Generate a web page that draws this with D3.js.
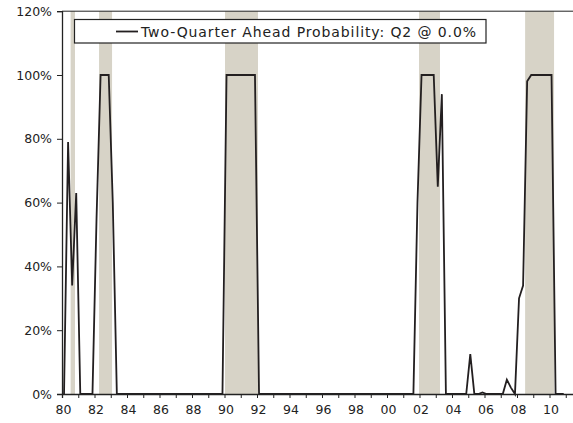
<!DOCTYPE html>
<html><head><meta charset="utf-8">
<script src="https://cdn.jsdelivr.net/npm/d3@7"></script>
<style>
html,body{margin:0;padding:0;background:#fff;}
svg{display:block;}
text{font-family:"DejaVu Sans",Verdana,sans-serif;fill:#222;}
</style></head>
<body>
<svg id="chart" width="573" height="423"></svg>
<script>
// ---- data ----
const probYears = [1980,1981,1982,1983,1984,1985,1986,1987,1988,1989,1990,1991,1992,1993,1994,1995,1996,1997,1998,1999,2000,2001,2002,2003,2004,2005,2006,2007,2008,2009,2010];
// quarterly values (Q1..Q4) for each year, in percent
const probability = [
  0, 79, 34, 63,
  0, 0, 0, 0,
  55, 100, 100, 100,
  60, 0, 0, 0,
  0, 0, 0, 0,
  0, 0, 0, 0,
  0, 0, 0, 0,
  0, 0, 0, 0,
  0, 0, 0, 0,
  0, 0, 0, 0,
  100, 100, 100, 100,
  100, 100, 100, 100,
  0, 0, 0, 0,
  0, 0, 0, 0,
  0, 0, 0, 0,
  0, 0, 0, 0,
  0, 0, 0, 0,
  0, 0, 0, 0,
  0, 0, 0, 0,
  0, 0, 0, 0,
  0, 0, 0, 0,
  0, 0, 0, 60,
  100, 100, 100, 100,
  65, 94, 0, 0,
  0, 0, 0, 0,
  12.5, 0, 0, 0.5,
  0, 0, 0, 0,
  0, 4.5, 2, 0,
  30, 34, 98, 100,
  100, 100, 100, 100,
  100, 0, 0, 0
];
const recessionStarts = [1980.53, 1982.28, 1990.03, 2001.97, 2008.5];
const recessionEnds   = [1980.80, 1983.08, 1992.06, 2003.26, 2010.28];
const yTicks = [0, 20, 40, 60, 80, 100, 120];
const xLabelYears = [1980,1982,1984,1986,1988,1990,1992,1994,1996,1998,2000,2002,2004,2006,2008,2010];
const legendLabel = "Two-Quarter Ahead Probability: Q2 @ 0.0%";

// ---- build points ----
const points = [];
probYears.forEach((yr, i) => {
  for (let q = 0; q < 4; q++) {
    points.push({t: yr + (q + 0.5) / 4, v: probability[i * 4 + q]});
  }
});

// ---- scales ----
const svg = d3.select("#chart");
const x = d3.scaleLinear().domain([1980, 2011.7]).range([62, 62 + 31.7 * 16.25]);
const y = d3.scaleLinear().domain([0, 120]).range([394, 394 - 319 * 1.2]);

// recession bands
svg.append("g").selectAll("rect")
  .data(recessionStarts.map((s, i) => [s, recessionEnds[i]]))
  .join("rect")
  .attr("x", d => x(d[0]))
  .attr("width", d => x(d[1]) - x(d[0]))
  .attr("y", y(120))
  .attr("height", y(0) - y(120))
  .attr("fill", "#d7d3c7");

// top border
svg.append("line")
  .attr("x1", x(1980)).attr("x2", 573)
  .attr("y1", y(120)).attr("y2", y(120))
  .attr("stroke", "#222").attr("stroke-width", 1);

// line
const line = d3.line().x(d => x(d.t)).y(d => y(d.v));
svg.append("path").datum(points)
  .attr("d", line)
  .attr("fill", "none")
  .attr("stroke", "#231f20")
  .attr("stroke-width", 1.8)
  .attr("stroke-linejoin", "miter");

// x axis
const xAxis = d3.axisBottom(x)
  .tickValues(d3.range(1980, 2012))
  .tickSize(4)
  .tickFormat(d => xLabelYears.includes(d) ? String(d).slice(2) : "");
const gx = svg.append("g").attr("transform", `translate(0,${y(0)})`).call(xAxis);
gx.select(".domain").attr("stroke", "#222").attr("stroke-width", 1.3);
gx.selectAll(".tick line").attr("stroke", "#222");
gx.selectAll(".tick text").attr("font-size", 12.5).attr("dy", "1.05em").attr("dx", 1);

// y axis
const yAxis = d3.axisLeft(y).tickValues(yTicks).tickSize(5).tickPadding(5).tickFormat(d => d + "%");
const gy = svg.append("g").attr("transform", `translate(${x(1980)},0)`).call(yAxis);
gy.select(".domain").attr("stroke", "#222").attr("stroke-width", 1.3);
gy.selectAll(".tick line").attr("stroke", "#222");
gy.selectAll(".tick text").attr("font-size", 12.5);

// legend
const lg = svg.append("g");
lg.append("rect").attr("x", 74.5).attr("y", 19.5).attr("width", 411.5).attr("height", 23.5)
  .attr("fill", "#fff").attr("stroke", "#222").attr("stroke-width", 1.2);
lg.append("line").attr("x1", 116).attr("x2", 138).attr("y1", 31.5).attr("y2", 31.5)
  .attr("stroke", "#231f20").attr("stroke-width", 1.8);
lg.append("text").attr("x", 141).attr("y", 36.5).attr("font-size", 14)
  .attr("textLength", 335).attr("lengthAdjust", "spacing").text(legendLabel);
</script>
</body></html>
